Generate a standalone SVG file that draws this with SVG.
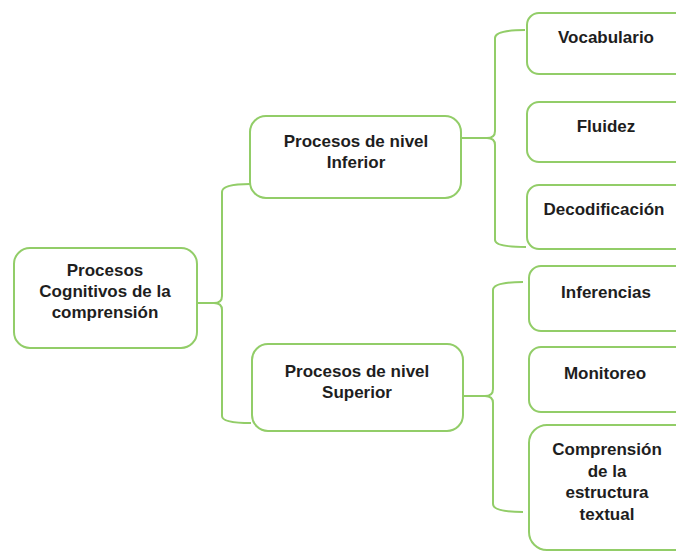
<svg xmlns="http://www.w3.org/2000/svg" width="676" height="552" viewBox="0 0 676 552">
<style>
.box{fill:#fff;stroke:#92CD68;stroke-width:2}
.con{fill:none;stroke:#92CD68;stroke-width:2}
text{font-family:"Liberation Sans",Arial,sans-serif;font-weight:bold;font-size:17px;fill:#1e1e1e;text-anchor:middle;dominant-baseline:central}
</style>
<rect width="676" height="552" fill="#fff"/>
<g id="connectors">
<path class="con" d="M197 303 H214 Q222 303 222 296 V192 Q222 184 250 184"/>
<path class="con" d="M214 303 Q222 303 222 310 V416 Q222 423 251 423"/>
<path class="con" d="M461 138 H487 Q495 138 495 131 V38 Q495 30 525 30"/>
<path class="con" d="M487 138 Q495 138 495 145 V240 Q495 247 526 247"/>
<path class="con" d="M463 396 H485 Q493 396 493 389 V290 Q493 282 523 282"/>
<path class="con" d="M485 396 Q493 396 493 403 V504 Q493 512 523 512"/>
</g>
<g id="root">
<rect class="box" x="14" y="248" width="183" height="100" rx="16"/>
<text x="105" y="270">Procesos</text>
<text x="105" y="291">Cognitivos de la</text>
<text x="105" y="312">comprensión</text>
</g>
<g id="inferior">
<rect class="box" x="250" y="116" width="211" height="82" rx="16"/>
<text x="356" y="141">Procesos de nivel</text>
<text x="356" y="162">Inferior</text>
</g>
<g id="superior">
<rect class="box" x="252" y="344" width="211" height="87" rx="16"/>
<text x="357" y="371">Procesos de nivel</text>
<text x="357" y="392">Superior</text>
</g>
<g id="vocabulario">
<rect class="box" x="527" y="13" width="165" height="61" rx="12"/>
<text x="606" y="37">Vocabulario</text>
</g>
<g id="fluidez">
<rect class="box" x="527" y="102" width="165" height="60" rx="12"/>
<text x="606" y="126">Fluidez</text>
</g>
<g id="decodificacion">
<rect class="box" x="527" y="185" width="165" height="64" rx="12"/>
<text x="604" y="209">Decodificación</text>
</g>
<g id="inferencias">
<rect class="box" x="529" y="266" width="165" height="65" rx="12"/>
<text x="606" y="292">Inferencias</text>
</g>
<g id="monitoreo">
<rect class="box" x="529" y="347" width="165" height="65" rx="12"/>
<text x="605" y="373">Monitoreo</text>
</g>
<g id="comprension">
<rect class="box" x="529" y="425" width="165" height="125" rx="18"/>
<text x="607" y="449">Comprensión</text>
<text x="607" y="471">de la</text>
<text x="607" y="492">estructura</text>
<text x="607" y="514">textual</text>
</g>
</svg>
